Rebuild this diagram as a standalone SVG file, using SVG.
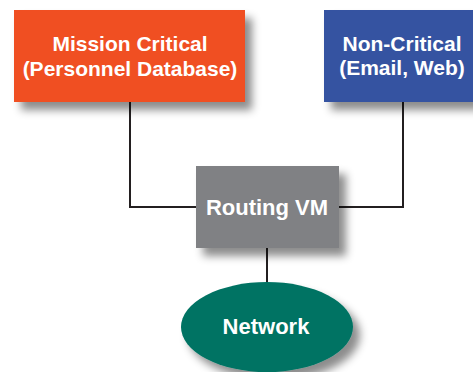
<svg xmlns="http://www.w3.org/2000/svg" width="473" height="372" viewBox="0 0 473 372">
  <style>
    .label { font-family: "Liberation Sans", Arial, sans-serif; font-weight: bold; font-size: 21px; fill: #ffffff; text-anchor: middle; }
    .wire { fill: none; stroke: #231f20; stroke-width: 2; }
  </style>
  <defs>
    <filter id="shadow" x="-20%" y="-20%" width="150%" height="160%">
      <feDropShadow dx="7" dy="8" stdDeviation="4" flood-color="#000" flood-opacity="0.45"/>
    </filter>
  </defs>
  <rect width="473" height="372" fill="#ffffff"/>

  <!-- connectors -->
  <g id="connectors">
    <polyline class="wire" points="130,102 130,207 197,207"/>
    <polyline class="wire" points="338,207 403,207 403,102"/>
    <line class="wire" x1="267" y1="248" x2="267" y2="283"/>
  </g>

  <g id="mission-critical">
    <rect x="14" y="10" width="231" height="92" fill="#f04f24" filter="url(#shadow)"/>
    <text class="label" x="130" y="51">Mission Critical</text>
    <text class="label" x="130" y="76">(Personnel Database)</text>
  </g>

  <g id="non-critical">
    <rect x="324" y="10" width="160" height="92" fill="#3652a1" filter="url(#shadow)"/>
    <text class="label" x="402" y="51">Non-Critical</text>
    <text class="label" x="402" y="75">(Email, Web)</text>
  </g>

  <g id="routing-vm">
    <rect x="196" y="166" width="143" height="82" fill="#808184" filter="url(#shadow)"/>
    <text class="label" x="267" y="215" style="font-size:22px">Routing VM</text>
  </g>

  <g id="network">
    <ellipse cx="267" cy="327" rx="86" ry="45" fill="#007363" filter="url(#shadow)"/>
    <text class="label" x="266" y="334" style="font-size:22px">Network</text>
  </g>
</svg>
